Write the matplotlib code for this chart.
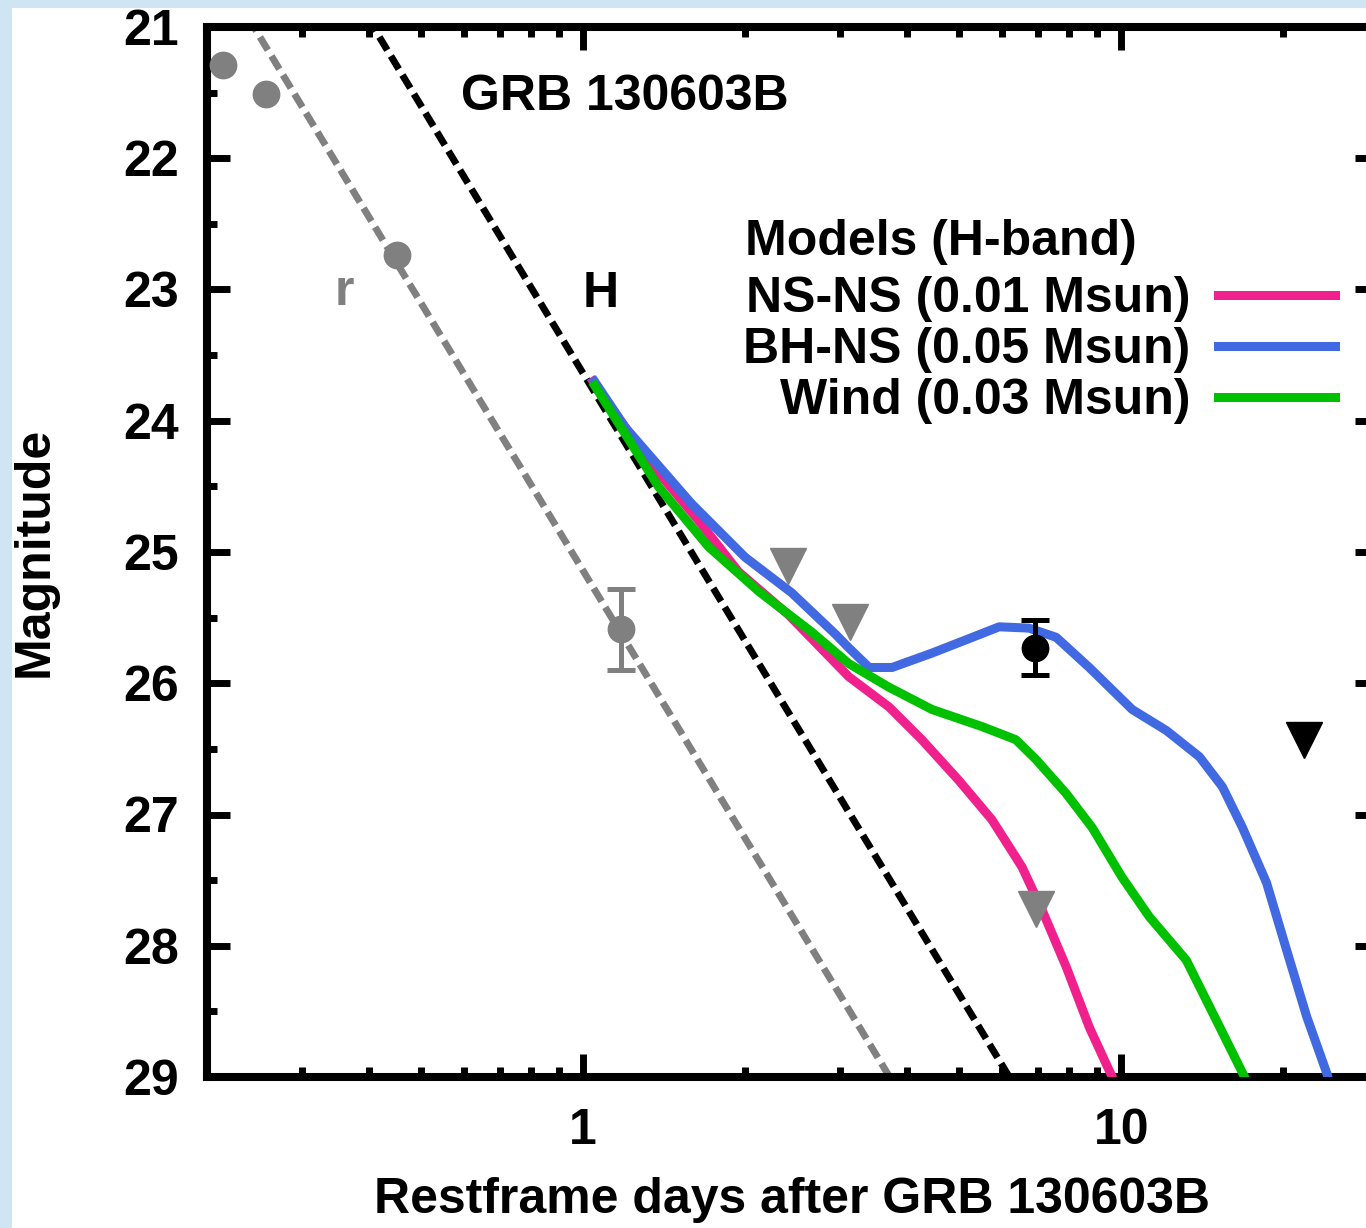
import matplotlib.pyplot as plt
from matplotlib.patches import Rectangle
from matplotlib.ticker import FixedLocator, MultipleLocator, NullFormatter

plt.rcParams['font.family'] = ['Liberation Sans', 'DejaVu Sans']
plt.rcParams['font.weight'] = 'bold'
plt.rcParams['axes.labelweight'] = 'bold'
plt.rcParams['font.size'] = 36

# r-band photometry (gray)
r_days = [0.214, 0.257, 0.451]
r_mag = [21.29, 21.51, 22.74]
r_err_days = [1.177]
r_err_mag = [25.59]
r_err_size = [0.31]
r_lim_days = [2.40, 3.13, 6.95]
r_lim_mag = [25.11, 25.53, 27.72]

# H-band photometry (black)
h_days = [6.92]
h_mag = [25.73]
h_err = [0.21]
h_lim_days = [21.9]
h_lim_mag = [26.43]

# afterglow power-law decays, end points in (days, mag)
r_decay_days = [0.2, 4.0]
r_decay_mag = [20.41, 29.22]
h_decay_days = [0.3, 7.0]
h_decay_mag = [20.10, 29.36]

# kilonova models, H band
nsns_days = [1.044, 1.321, 1.638, 1.944, 2.41, 3.116, 3.70, 4.26, 4.99, 5.75,
             6.54, 7.13, 7.90, 8.72, 9.62, 9.9]
nsns_mag = [23.70, 24.30, 24.76, 25.15, 25.48, 25.95, 26.18, 26.43, 26.74, 27.04,
            27.40, 27.73, 28.16, 28.62, 29.0, 29.14]
bhns_days = [1.05, 1.197, 1.589, 2.00, 2.44, 2.95, 3.116, 3.40, 3.75, 4.45, 5.14,
             5.93, 6.74, 7.57, 8.72, 10.48, 12.13, 13.97, 15.42, 16.80, 18.62,
             20.28, 22.11, 24.09, 24.6]
bhns_mag = [23.70, 24.05, 24.63, 25.04, 25.31, 25.63, 25.73, 25.88, 25.88, 25.77,
            25.67, 25.57, 25.58, 25.65, 25.88, 26.20, 26.36, 26.56, 26.79, 27.10,
            27.52, 28.03, 28.54, 28.97, 29.1]
wind_days = [1.05, 1.379, 1.71, 2.12, 2.66, 3.116, 3.70, 4.45, 5.51, 6.37, 6.94,
             7.90, 8.83, 10.04, 11.28, 13.21, 15.03, 16.95, 17.47]
wind_mag = [23.73, 24.50, 24.96, 25.30, 25.61, 25.85, 26.03, 26.20, 26.33, 26.43,
            26.58, 26.84, 27.10, 27.48, 27.78, 28.11, 28.57, 29.00, 29.14]

GRAY = '#808080'
PINK = '#f0208c'
BLUE = '#4169e1'
GREEN = '#00c000'

W, H = 1366, 1228
fig = plt.figure(figsize=(W / 100, H / 100), dpi=100, facecolor='#cfe5f3')
fig.patches.append(Rectangle((12 / W, 0), 1, 1 - 8 / H, transform=fig.transFigure,
                             facecolor='white', edgecolor='none', zorder=-10))

ax = fig.add_axes([207 / W, (H - 1077) / H, 1171 / W, 1050 / H])
ax.set_xscale('log')
ax.set_xlim(0.2, 30)
ax.set_ylim(29, 21)

# power-law decays
ax.plot(r_decay_days, r_decay_mag, color=GRAY, lw=5, dashes=(2.2, 1.0), zorder=2)
ax.plot(h_decay_days, h_decay_mag, color='black', lw=5, dashes=(2.2, 1.0), zorder=2)

# model curves
ax.plot(nsns_days, nsns_mag, color=PINK, lw=6.5, label='NS-NS (0.01 Msun)', zorder=3)
ax.plot(bhns_days, bhns_mag, color=BLUE, lw=6.5, label='BH-NS (0.05 Msun)', zorder=3)
ax.plot(wind_days, wind_mag, color=GREEN, lw=6.5, label='Wind (0.03 Msun)', zorder=3)

# data
ax.plot(r_days, r_mag, 'o', color=GRAY, ms=19, zorder=4)
ax.errorbar(r_err_days, r_err_mag, yerr=r_err_size, fmt='o', color=GRAY, ms=19,
            elinewidth=3.6, capsize=10, capthick=3.6, zorder=4)
ax.plot(r_lim_days, r_lim_mag, 'v', color=GRAY, ms=26, zorder=4)
ax.errorbar(h_days, h_mag, yerr=h_err, fmt='o', color='black', ms=19,
            elinewidth=3.6, capsize=10, capthick=3.6, zorder=5)
ax.plot(h_lim_days, h_lim_mag, 'v', color='black', ms=26, zorder=5)

ax.text(1.197, 21.63, 'GRB 130603B', ha='center', va='baseline')
ax.text(1.076, 23.13, 'H', ha='center', va='baseline')
ax.text(0.36, 23.12, 'r', ha='center', va='baseline', color=GRAY)

# axes styling
for sp in ax.spines.values():
    sp.set_linewidth(5.8)
ax.xaxis.set_major_locator(FixedLocator([1, 10]))
ax.xaxis.set_minor_locator(FixedLocator([0.3, 0.4, 0.5, 0.6, 0.7, 0.8, 0.9,
                                         2, 3, 4, 5, 6, 7, 8, 9, 20, 30]))
ax.set_xticklabels(['1', '10'])
ax.xaxis.set_minor_formatter(NullFormatter())
ax.yaxis.set_major_locator(MultipleLocator(1))
ax.yaxis.set_minor_locator(MultipleLocator(0.5))
ax.tick_params(which='both', direction='in', top=True, right=True, width=5)
ax.tick_params(which='major', length=16.5)
ax.tick_params(which='minor', length=7)
ax.tick_params(axis='x', which='major', pad=22)
ax.tick_params(axis='y', which='major', pad=20)

ax.set_xlabel('Restframe days after GRB 130603B')
ax.xaxis.label.set_va('center')
ax.xaxis.set_label_coords(0.5, -0.117)
ax.set_ylabel('Magnitude')
ax.yaxis.label.set_va('center')
ax.yaxis.set_label_coords(-0.147, 0.5)

# legend, with its heading placed above the entries
leg = ax.legend(loc='upper right', bbox_to_anchor=(1335 / W, 1 - 276 / H),
                bbox_transform=fig.transFigure, frameon=False, markerfirst=False,
                borderpad=0, borderaxespad=0, handlelength=2.34, handletextpad=0.56,
                labelspacing=0.1)
fig.text(745 / W, 1 - 255 / H, 'Models (H-band)', ha='left', va='baseline')

fig.savefig('out.png', dpi=100, facecolor=fig.get_facecolor())
